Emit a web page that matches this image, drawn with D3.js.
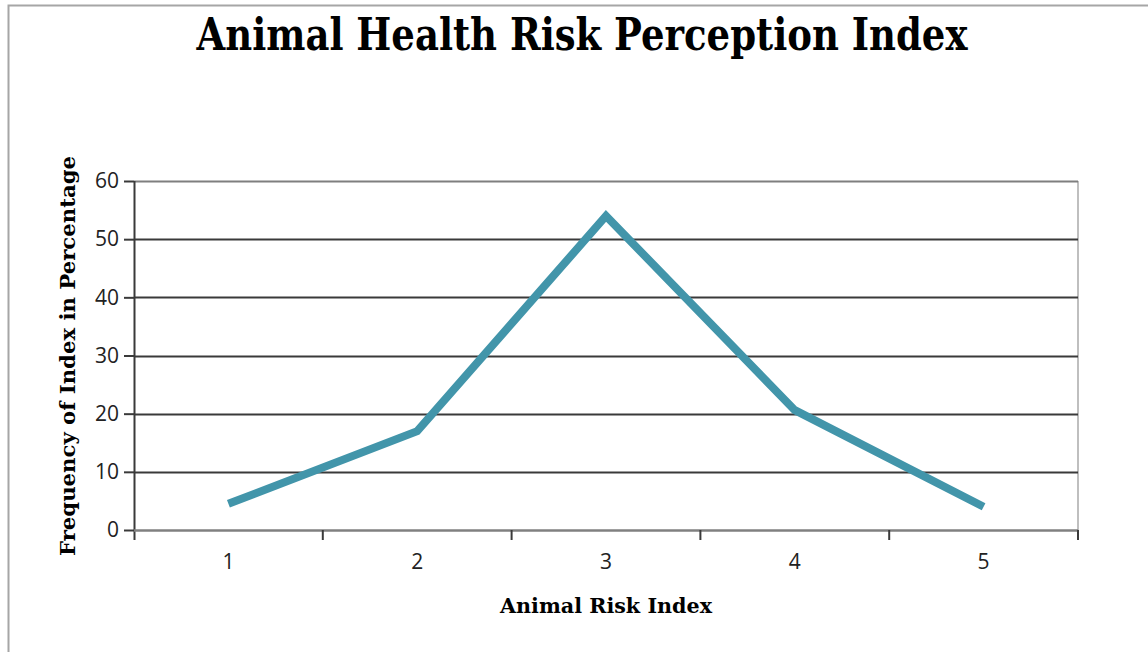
<!DOCTYPE html>
<html>
<head>
<meta charset="utf-8">
<script src="https://cdn.jsdelivr.net/npm/d3@7"></script>
<style>
  html, body { margin: 0; padding: 0; background: #fff; }
  svg { display: block; }
  .tick-label { font-family: 'Open Sans', sans-serif; font-size: 21px; fill: #222; }
</style>
</head>
<body>
<script>
// Risk index categories and the share of respondents (%) in each
const categories = ["1", "2", "3", "4", "5"];
const frequency = [4.5, 17, 54, 20.6, 4];
const yTicks = [0, 10, 20, 30, 40, 50, 60];

const W = 1148, H = 652;
const plot = { left: 134, right: 1078, top: 181, bottom: 530 };

const svg = d3.select("body").append("svg")
  .attr("width", W).attr("height", H);

// outer chart frame
svg.append("rect")
  .attr("x", 8.5).attr("y", 5.5)
  .attr("width", W + 20).attr("height", H + 20)
  .attr("fill", "#fff").attr("stroke", "#a6a6a6").attr("stroke-width", 2);

const x = d3.scaleBand().domain(categories)
  .range([plot.left, plot.right]).paddingInner(0).paddingOuter(0);
const y = d3.scaleLinear().domain([0, 60]).range([plot.bottom, plot.top]);

// right edge of the plot area
svg.append("line")
  .attr("x1", plot.right).attr("x2", plot.right)
  .attr("y1", plot.top).attr("y2", plot.bottom)
  .attr("stroke", "#bfbfbf").attr("stroke-width", 2);

// horizontal gridlines
svg.append("g").selectAll("line")
  .data(yTicks.filter(d => d > 0))
  .join("line")
  .attr("x1", plot.left).attr("x2", plot.right)
  .attr("y1", d => Math.round(y(d)) + 0.5).attr("y2", d => Math.round(y(d)) + 0.5)
  .attr("stroke", d => d === 60 ? "#7f7f7f" : "#3a3a3a")
  .attr("stroke-width", 2);

// y axis
const yAxis = svg.append("g")
  .attr("transform", `translate(${plot.left},0)`)
  .call(d3.axisLeft(y).tickValues(yTicks).tickSize(10).tickPadding(5).tickSizeOuter(0))
  .attr("font-size", null).attr("font-family", null);
yAxis.select(".domain").attr("stroke", "#3a3a3a").attr("stroke-width", 2)
  .attr("d", `M0.5,${plot.top}V${plot.bottom + 10}`);
yAxis.selectAll(".tick line").attr("stroke", "#3a3a3a").attr("stroke-width", 2);
yAxis.selectAll(".tick text").attr("class", "tick-label").attr("fill", null);

// x axis: ticks sit between categories
const xAxisG = svg.append("g").attr("transform", `translate(0,${plot.bottom})`);
xAxisG.append("line")
  .attr("x1", plot.left).attr("x2", plot.right)
  .attr("y1", 0.5).attr("y2", 0.5)
  .attr("stroke", "#808080").attr("stroke-width", 2.5);
const boundaries = categories.map(c => x(c)).concat([x.range()[1]]);
xAxisG.selectAll("line.tk")
  .data(boundaries.slice(1))
  .join("line").attr("class", "tk")
  .attr("x1", d => d).attr("x2", d => d)
  .attr("y1", 0).attr("y2", 10)
  .attr("stroke", "#3a3a3a").attr("stroke-width", 2);
xAxisG.selectAll("text")
  .data(categories)
  .join("text")
  .attr("class", "tick-label")
  .attr("x", d => x(d) + x.bandwidth() / 2)
  .attr("y", 39)
  .attr("text-anchor", "middle")
  .text(d => d);

// data line
const line = d3.line()
  .x((d, i) => x(categories[i]) + x.bandwidth() / 2)
  .y(d => y(d));
svg.append("path")
  .datum(frequency)
  .attr("d", line)
  .attr("fill", "none")
  .attr("stroke", "#4295aa")
  .attr("stroke-width", 8)
  .attr("stroke-linejoin", "miter");

// titles
svg.append("text")
  .attr("x", 582).attr("y", 50)
  .attr("text-anchor", "middle")
  .attr("font-family", "'DejaVu Serif', serif")
  .attr("font-weight", "bold")
  .attr("font-size", 44)
  .attr("textLength", 771).attr("lengthAdjust", "spacingAndGlyphs")
  .attr("fill", "#000")
  .text("Animal Health Risk Perception Index");

svg.append("text")
  .attr("x", 606).attr("y", 613)
  .attr("text-anchor", "middle")
  .attr("font-family", "'DejaVu Serif', serif")
  .attr("font-weight", "bold")
  .attr("font-size", 20)
  .attr("textLength", 212).attr("lengthAdjust", "spacingAndGlyphs")
  .attr("fill", "#000")
  .text("Animal Risk Index");

svg.append("text")
  .attr("transform", "translate(75,356) rotate(-90)")
  .attr("text-anchor", "middle")
  .attr("font-family", "'DejaVu Serif', serif")
  .attr("font-weight", "bold")
  .attr("font-size", 20)
  .attr("textLength", 400).attr("lengthAdjust", "spacingAndGlyphs")
  .attr("fill", "#000")
  .text("Frequency of Index in Percentage");
</script>
</body>
</html>
